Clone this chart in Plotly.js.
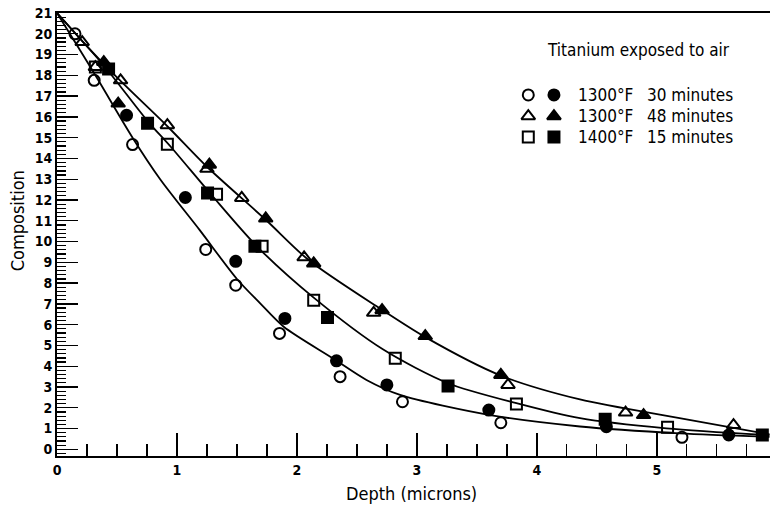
<!DOCTYPE html>
<html>
<head>
<meta charset="utf-8">
<script src="https://cdn.plot.ly/plotly-3.0.1.min.js"></script>
<style>html,body{margin:0;padding:0;background:#fff;}#chart{width:771px;height:506px;}</style>
</head>
<body>
<div id="chart"></div>
<script>
// ---- data ----
// 1300F 30 minutes (circles)
const c30OpenX = [0.15, 0.31, 0.63, 1.24, 1.49, 1.855, 2.36, 2.88, 3.70, 5.21];
const c30OpenY = [20.0, 17.76, 14.67, 9.62, 7.9, 5.58, 3.5, 2.29, 1.28, 0.58];
const c30FillX = [0.58, 1.07, 1.49, 1.90, 2.33, 2.75, 3.60, 4.58, 5.60];
const c30FillY = [16.08, 12.12, 9.05, 6.3, 4.26, 3.1, 1.89, 1.09, 0.69];
const c30CurveX = [0, 0.31, 0.63, 0.86, 1.19, 1.5, 1.69, 1.89, 2.3, 2.58, 2.86, 3.61, 4.36, 5.19, 5.94];
const c30CurveY = [21.0, 18.1, 15.0, 13.0, 10.55, 8.2, 7.05, 5.9, 4.38, 3.34, 2.62, 1.65, 1.1, 0.77, 0.6];

// 1300F 48 minutes (triangles)
const c48OpenX = [0.21, 0.32, 0.53, 0.92, 1.25, 1.54, 2.06, 2.64, 3.76, 4.74, 5.64];
const c48OpenY = [19.6, 18.4, 17.76, 15.6, 13.5, 12.1, 9.24, 6.57, 3.1, 1.77, 1.17];
const c48FillX = [0.39, 0.51, 1.27, 1.74, 2.14, 2.71, 3.07, 3.70, 4.89];
const c48FillY = [18.64, 16.64, 13.7, 11.11, 8.95, 6.7, 5.45, 3.58, 1.65];
const c48CurveX = [0, 0.21, 0.5, 0.92, 1.25, 1.74, 2.1, 2.7, 3.07, 3.7, 4.36, 5.19, 5.94];
const c48CurveY = [21.0, 19.65, 17.9, 15.55, 13.6, 11.05, 9.1, 6.75, 5.4, 3.55, 2.4, 1.5, 0.72];

// 1400F 15 minutes (squares)
const c15OpenX = [0.32, 0.92, 1.33, 1.71, 2.14, 2.82, 3.83, 5.09];
const c15OpenY = [18.4, 14.68, 12.28, 9.78, 7.18, 4.38, 2.18, 1.06];
const c15FillX = [0.43, 0.755, 1.255, 1.65, 2.255, 3.26, 4.57, 5.88];
const c15FillY = [18.3, 15.7, 12.34, 9.78, 6.35, 3.05, 1.45, 0.69];
const c15CurveX = [0, 0.4, 0.755, 0.95, 1.28, 1.67, 2.14, 2.72, 3.26, 3.83, 4.36, 5.08, 5.94];
const c15CurveY = [21.0, 18.4, 15.8, 14.55, 12.3, 9.75, 7.3, 4.8, 3.18, 2.22, 1.5, 1.01, 0.68];

// legend labels
const legendTemps = ["1300°F", "1300°F", "1400°F"];
const legendTimes = ["30 minutes", "48 minutes", "15 minutes"];
const legendSymbols = ["circle", "triangle-up", "square"];
const xTickVals = [0, 1, 2, 3, 4, 5];
const yTickVals = [0,1,2,3,4,5,6,7,8,9,10,11,12,13,14,15,16,17,18,19,20,21];

// ---- build ----
const FONT = "DejaVu Sans Condensed, Liberation Sans Narrow, Arial Narrow, sans-serif";
const lineStyle = {color: "#000", width: 1.8, shape: "spline", smoothing: 0.8};
function curve(x, y) { return {x, y, type: "scatter", mode: "lines", line: lineStyle, hoverinfo: "skip"}; }
function pts(x, y, sym, filled) {
  return {x, y, type: "scatter", mode: "markers",
    marker: {symbol: filled ? sym : sym + "-open", size: sym === "triangle-up" ? 12 : 11,
      color: "#000", line: {color: "#000", width: 2}}};
}
const traces = [
  curve(c30CurveX, c30CurveY), curve(c48CurveX, c48CurveY), curve(c15CurveX, c15CurveY),
  pts(c30OpenX, c30OpenY, "circle", false), pts(c30FillX, c30FillY, "circle", true),
  pts(c48OpenX, c48OpenY, "triangle-up", false), pts(c48FillX, c48FillY, "triangle-up", true),
  pts(c15OpenX, c15OpenY, "square", false), pts(c15FillX, c15FillY, "square", true)
];

// legend markers on an overlay axis (0..1 in plot area)
const legRowY = [0.815, 0.767, 0.72];
legendSymbols.forEach((s, i) => {
  [false, true].forEach((f, j) => {
    traces.push({x: [j === 0 ? 0.661 : 0.697], y: [legRowY[i]], xaxis: "x2", yaxis: "y2",
      type: "scatter", mode: "markers", hoverinfo: "skip",
      marker: {symbol: f ? s : s + "-open", size: s === "triangle-up" ? 12 : 11,
        color: "#000", line: {color: "#000", width: 2}}});
  });
});

const TXT = {family: FONT, size: 17, color: "#000"};
const annotations = [
  {text: "Titanium exposed to air", xref: "paper", yref: "paper", x: 0.815, y: 0.916,
   showarrow: false, font: TXT, xanchor: "center", yanchor: "middle"},
  {text: "Depth (microns)", xref: "paper", yref: "paper", x: 0.497, y: -0.085,
   showarrow: false, font: {family: FONT, size: 18, color: "#000"}, xanchor: "center", yanchor: "middle"},
  {text: "Composition", xref: "paper", yref: "paper", x: -0.056, y: 0.53, textangle: -90,
   showarrow: false, font: {family: FONT, size: 18, color: "#000"}, xanchor: "center", yanchor: "middle"}
];
legendTemps.forEach((t, i) => {
  annotations.push({text: t, xref: "paper", yref: "paper", x: 0.728, y: legRowY[i], showarrow: false,
    xanchor: "left", yanchor: "middle", font: TXT});
  annotations.push({text: legendTimes[i], xref: "paper", yref: "paper", x: 0.824, y: legRowY[i], showarrow: false,
    xanchor: "left", yanchor: "middle", font: TXT});
});

const TICKF = {family: FONT, size: 14, color: "#000", weight: "bold"};
const layout = {
  width: 771, height: 506,
  margin: {l: 57, r: 1, t: 13, b: 50},
  paper_bgcolor: "#fff", plot_bgcolor: "#fff",
  showlegend: false,
  font: {family: FONT, color: "#000"},
  xaxis: {range: [0, 5.944], tickvals: xTickVals, ticks: "inside", ticklen: 23, tickwidth: 1.6,
    tickcolor: "#000", showline: true, linecolor: "#000", linewidth: 2, mirror: true,
    showgrid: false, zeroline: false, tickfont: TICKF,
    minor: {dtick: 0.25, ticks: "inside", ticklen: 12, tickwidth: 1.4, tickcolor: "#000", showgrid: false}},
  yaxis: {range: [-0.32, 21.0], tickvals: yTickVals, ticks: "inside", ticklen: 21, tickwidth: 1.4,
    tickcolor: "#000", showline: true, linecolor: "#000", linewidth: 2, showgrid: false, zeroline: false,
    tickfont: TICKF,
    minor: {dtick: 0.2, ticks: "inside", ticklen: 9, tickwidth: 1.2, tickcolor: "#000", showgrid: false}},
  xaxis2: {overlaying: "x", range: [0, 1], visible: false, anchor: "y2"},
  yaxis2: {overlaying: "y", range: [0, 1], visible: false, anchor: "x2"},
  annotations
};
Plotly.newPlot("chart", traces, layout, {staticPlot: true});
</script>
</body>
</html>
